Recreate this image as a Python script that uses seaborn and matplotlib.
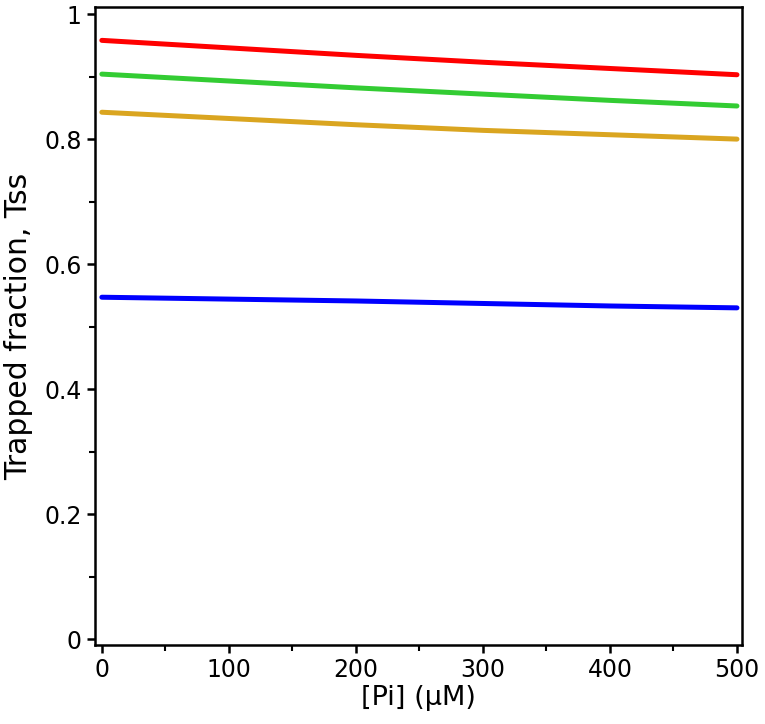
import pandas as pd
import matplotlib.pyplot as plt
import seaborn as sns
from matplotlib.ticker import MultipleLocator

# Values
pi_conc = [0, 100, 200, 300, 400, 500]
red_vals = [0.958, 0.946, 0.934, 0.923, 0.913, 0.903]
green_vals = [0.904, 0.893, 0.882, 0.872, 0.862, 0.853]
gold_vals = [0.843, 0.833, 0.823, 0.814, 0.807, 0.800]
blue_vals = [0.547, 0.544, 0.541, 0.537, 0.533, 0.530]

series_names = ['red', 'green', 'gold', 'blue']
series_colors = ['#ff0000', '#33cc33', '#daa520', '#0000ff']

frames = []
for name, vals in zip(series_names, [red_vals, green_vals, gold_vals, blue_vals]):
    frames.append(pd.DataFrame({'Pi': pi_conc, 'Tss': vals, 'series': name}))
df = pd.concat(frames, ignore_index=True)

sns.set_style("ticks")
plt.rcParams['font.family'] = ['DejaVu Sans']
plt.rcParams['text.color'] = 'black'
plt.rcParams['axes.labelcolor'] = 'black'
plt.rcParams['xtick.color'] = 'black'
plt.rcParams['ytick.color'] = 'black'

fig = plt.figure(figsize=(7.65, 7.24), dpi=100)
ax = fig.add_axes([0.124, 0.109, 0.846, 0.881])

sns.lineplot(data=df, x='Pi', y='Tss', hue='series', palette=series_colors,
             linewidth=3.6, legend=False, ax=ax)

ax.set_xlim(-5.5, 504)
ax.set_ylim(-0.0096, 1.011)
ax.xaxis.set_major_locator(MultipleLocator(100))
ax.xaxis.set_minor_locator(MultipleLocator(50))
ax.yaxis.set_minor_locator(MultipleLocator(0.1))
ax.set_yticks([0, 0.2, 0.4, 0.6, 0.8, 1.0])
ax.set_yticklabels(['0', '0.2', '0.4', '0.6', '0.8', '1'])

for side in ['left', 'right', 'top', 'bottom']:
    ax.spines[side].set_visible(True)
    ax.spines[side].set_linewidth(1.8)
    ax.spines[side].set_color('black')

ax.tick_params(axis='both', which='major', length=6, width=1.8, labelsize=17,
               direction='out', colors='black')
ax.tick_params(axis='both', which='minor', length=4, width=1.5, direction='out',
               colors='black')

ax.set_xlabel('[Pi] (μM)', fontsize=19.5, color='black')
ax.set_ylabel('Trapped fraction, Tss', fontsize=21.5, color='black')
ax.xaxis.set_label_coords(0.5, -0.062)
ax.yaxis.set_label_coords(-0.096, 0.5)

fig.savefig('out.png', dpi=100)
